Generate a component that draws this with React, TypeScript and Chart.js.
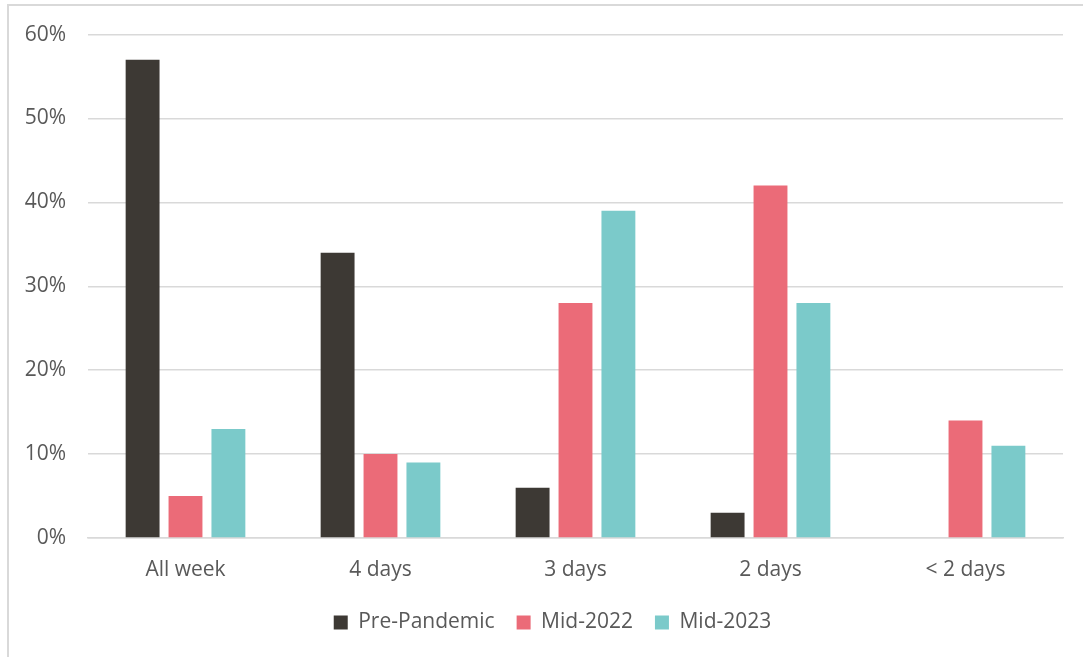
import React, { useEffect, useRef } from "react";
import { Chart, registerables } from "chart.js";

Chart.register(...registerables);

const categories = ["All week", "4 days", "3 days", "2 days", "< 2 days"];
const prePandemic = [57, 34, 6, 3, 0];
const mid2022 = [5, 10, 28, 42, 14];
const mid2023 = [13, 9, 39, 28, 11];
const seriesNames = ["Pre-Pandemic", "Mid-2022", "Mid-2023"];
const seriesColors = ["#3D3934", "#EB6B78", "#7BCACA"];

const FONT = "'Open Sans', 'Liberation Sans', sans-serif";
const TEXT = "#595959";
const GRID = "#D9D9D9";

const shiftLegend = {
  id: "shiftLegend",
  afterLayout(chart: any) {
    const lg = chart.legend;
    if (lg) {
      lg.left += 21;
      lg.right += 21;
    }
  },
};

export default function App() {
  const ref = useRef<HTMLCanvasElement | null>(null);

  useEffect(() => {
    if (!ref.current) return;
    const values = [prePandemic, mid2022, mid2023];
    const chart = new Chart(ref.current, {
      type: "bar",
      data: {
        labels: categories,
        datasets: values.map((v, i) => ({
          label: seriesNames[i],
          data: v,
          backgroundColor: seriesColors[i],
          borderWidth: 0,
          categoryPercentage: 0.66,
          barPercentage: 0.79,
        })),
      },
      plugins: [shiftLegend],
      options: {
        animation: false,
        responsive: false,
        maintainAspectRatio: false,
        layout: { padding: { top: 33, right: 20, bottom: 14, left: 0 } },
        plugins: {
          tooltip: { enabled: false },
          legend: {
            position: "bottom",
            labels: {
              color: TEXT,
              font: { family: FONT, size: 21 },
              boxWidth: 14,
              boxHeight: 14,
              padding: 22,
            },
          },
        },
        scales: {
          x: {
            grid: { display: false, drawTicks: false },
            border: { display: true, color: GRID, width: 1.5 },
            ticks: { color: TEXT, font: { family: FONT, size: 21 }, padding: 19 },
            afterFit: (scale: any) => {
              scale.height = 52;
            },
          },
          y: {
            min: 0,
            max: 60,
            grid: { color: GRID, lineWidth: 1.5, drawTicks: false },
            border: { display: false },
            ticks: {
              stepSize: 10,
              color: TEXT,
              font: { family: FONT, size: 21 },
              padding: 22,
              callback: (v: any) => v + "%",
            },
            afterFit: (scale: any) => {
              scale.width = 88;
            },
          },
        },
      },
    });
    return () => chart.destroy();
  }, []);

  return (
    <div style={{ position: "fixed", left: 0, top: 0, width: 1083, height: 657, background: "#fff", overflow: "hidden" }}>
      <div
        style={{
          position: "absolute",
          left: 7,
          top: 4,
          width: 1100,
          height: 700,
          border: "2px solid #D9D9D9",
          boxSizing: "border-box",
        }}
      />
      <canvas ref={ref} width={1083} height={657} style={{ position: "absolute", left: 0, top: 0 }} />
    </div>
  );
}
